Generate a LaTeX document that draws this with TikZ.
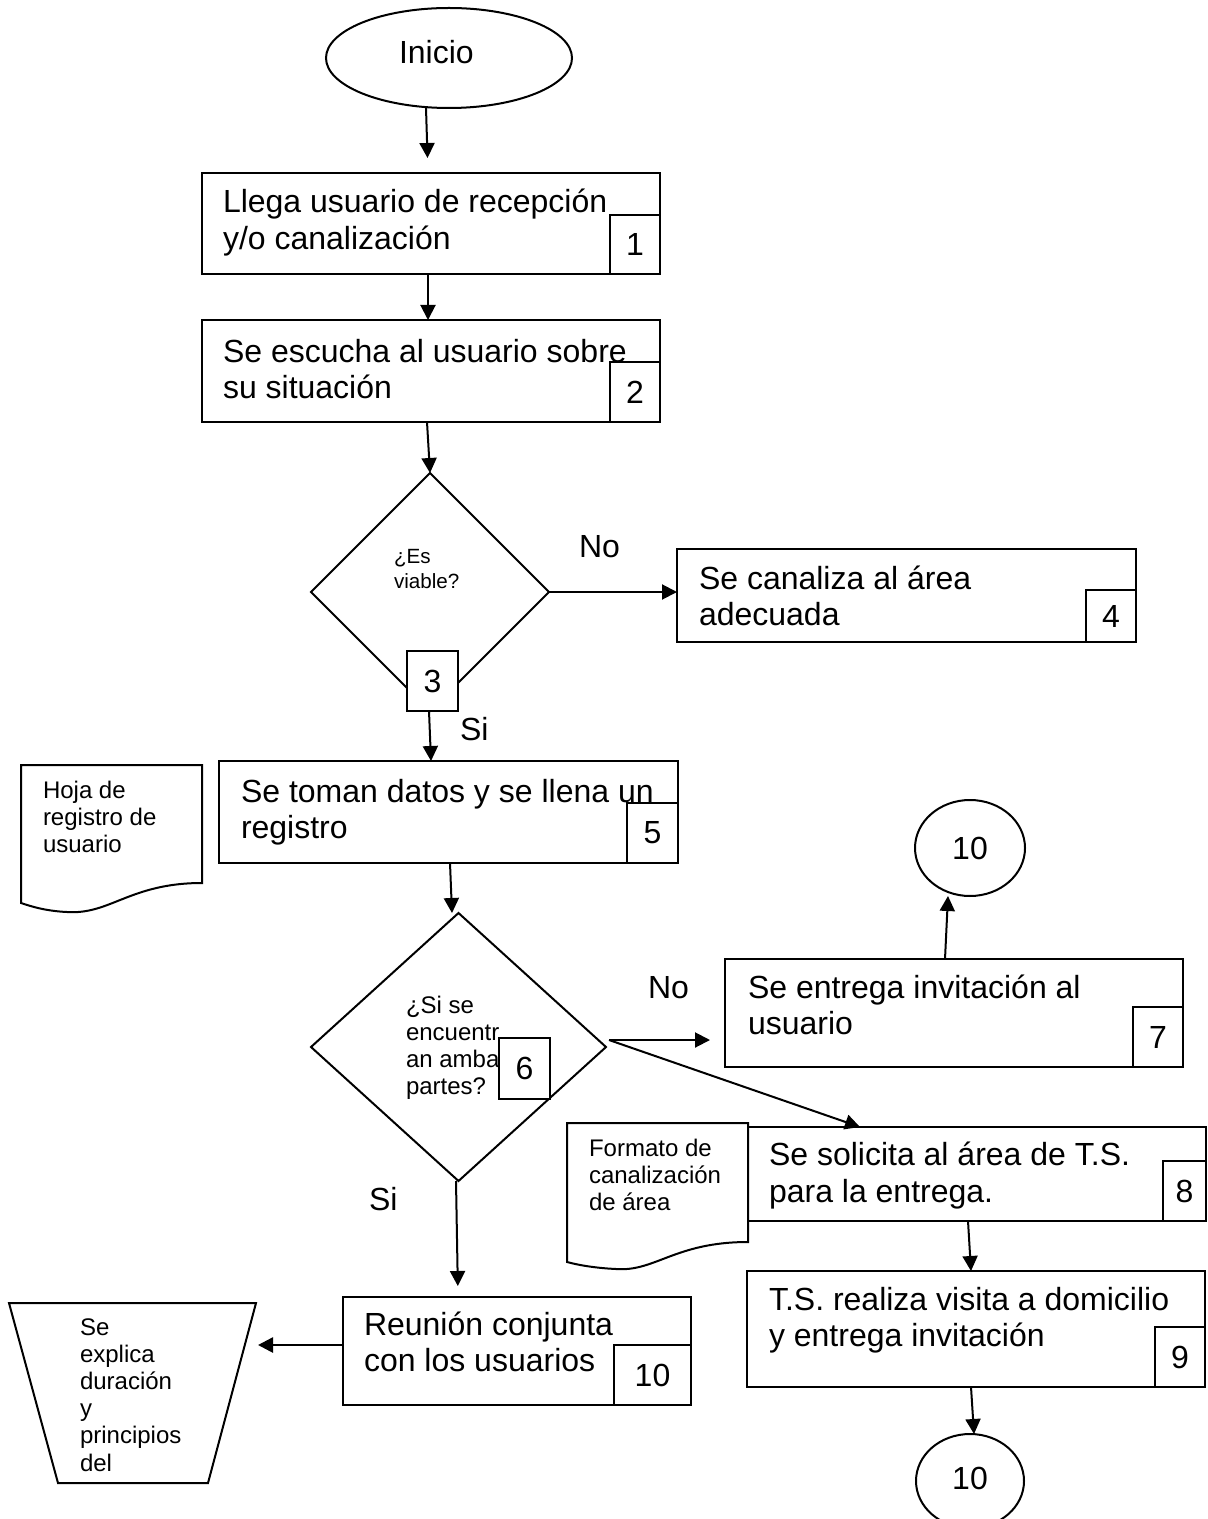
\documentclass[tikz,border=0pt]{standalone}
\usepackage{fontspec}
\setmainfont{Liberation Sans}
\usetikzlibrary{shapes.geometric,arrows.meta,fit,calc}
\newcommand{\bigf}{\fontsize{16pt}{18.4pt}\selectfont}
\newcommand{\smlf}{\fontsize{12pt}{13.6pt}\selectfont}
\newcommand{\tnyf}{\fontsize{10.3pt}{12.5pt}\selectfont}
\begin{document}
\begin{tikzpicture}[x=0.5pt,y=-0.5pt, line width=1pt,
  box/.style={draw, inner sep=0pt, outer sep=0pt},
  numb/.style={draw, inner sep=0pt, outer sep=0pt},
  numbw/.style={draw, fill=white, inner sep=0pt, outer sep=0pt},
  numt/.style={font=\bigf, inner sep=0pt},
  txt/.style={anchor=base west, inner sep=0pt, align=left, font=\bigf},
  stxt/.style={anchor=base west, inner sep=0pt, align=left, font=\smlf},
  ttxt/.style={anchor=base west, inner sep=0pt, align=left, font=\tnyf},
  arr/.style={-{Triangle[length=7.5pt,width=7.5pt]}},
  dec/.style={draw, diamond, inner sep=0pt, outer sep=0pt},
  term/.style={draw, ellipse, inner sep=0pt, outer sep=0pt}]
\useasboundingbox (0,0) rectangle (1207,1519);
\clip (0,0) rectangle (1207,1519);

% start
\node[term, minimum width=123pt, minimum height=50pt] (inicio) at (449,58) {};
\node[txt] (tinicio) at (398,64) {Inicio};

% box 1
\node[box, fit={(202,173) (660,274)}] (b1) {};
\node[numb, fit={(610,215) (660,274)}] (n1) {};
\node[numt] at (n1.center) {1};
\node[txt] at (222,249.8) {Llega usuario de recepción\\y/o canalización};

% box 2
\node[box, fit={(202,320) (660,422)}] (b2) {};
\node[numb, fit={(610,362) (660,422)}] (n2) {};
\node[numt] at (n2.center) {2};
\node[txt] at (222,398.8) {Se escucha al usuario sobre\\su situación};

% decision 1
\node[dec, minimum width=119pt, minimum height=119pt] (d1) at (430,592) {};
\node[numbw, fit={(407,651) (458,711)}] (n3) {};
\node[numt] at (n3.center) {3};
\node[ttxt] at (393,588) {¿Es\\viable?};
\node[txt] (no1) at (578,557) {No};
\node[txt] (si1) at (459,740) {Si};

% box 4
\node[box, fit={(677,549) (1136,642)}] (b4) {};
\node[numb, fit={(1086,590) (1136,642)}] (n4) {};
\node[numt] at (n4.center) {4};
\node[txt] at (698,625.8) {Se canaliza al área\\adecuada};

% box 5
\node[box, fit={(219,761) (678,863)}] (b5) {};
\node[numb, fit={(627,803) (678,863)}] (n5) {};
\node[numt] at (n5.center) {5};
\node[txt] at (240,838.8) {Se toman datos y se llena un\\registro};

% document 1
\draw (21,765) -- (202,765) -- (202,883)
  .. controls (130,883) and (110,915) .. (67,912)
  .. controls (45,911) and (30,906) .. (21,903) -- cycle;
\node[stxt] (doc1) at (42,852.4) {Hoja de\\registro de\\usuario};

% decision 2
\node[dec, minimum width=147.5pt, minimum height=134pt] (d2) at (458.5,1047) {};
\node[stxt] at (405,1094.6) {¿Si se\\encuentr\\an amba\\partes?};
\node[numbw, fit={(499,1038) (550,1099)}] (n6) {};
\node[numt] at (n6.center) {6};
\node[txt] (no2) at (647,998) {No};
\node[txt] (si2) at (368,1210) {Si};

% top connector circle
\node[term, minimum width=55pt, minimum height=48pt] (c1) at (970,848) {};
\node[numt] at (c1.center) {10};

% box 7
\node[box, fit={(725,959) (1183,1067)}] (b7) {};
\node[numb, fit={(1133,1007) (1183,1067)}] (n7) {};
\node[numt] at (n7.center) {7};
\node[txt] at (747,1034.8) {Se entrega invitación al\\usuario};

% document 2
\draw (567,1123) -- (748,1123) -- (748,1242)
  .. controls (675,1242) and (655,1272) .. (616,1269)
  .. controls (595,1268) and (578,1265) .. (567,1262) -- cycle;
\node[stxt] (doc2) at (588,1210.4) {Formato de\\canalización\\de área};

% box 8
\node[box, fit={(748,1127) (1206,1221)}] (b8) {};
\node[numb, fit={(1163,1161) (1206,1221)}] (n8) {};
\node[numt] at (n8.center) {8};
\node[txt] at (768,1202.5) {Se solicita al área de T.S.\\para la entrega.};

% box 9
\node[box, fit={(747,1271) (1205,1387)}] (b9) {};
\node[numb, fit={(1155,1327) (1205,1387)}] (n9) {};
\node[numt] at (n9.center) {9};
\node[txt] at (768,1346.8) {T.S. realiza visita a domicilio\\y entrega invitación};

% bottom connector circle
\node[term, minimum width=54pt, minimum height=47pt] (c2) at (970,1481) {};
\node[numt] at (970,1478) {10};

% box 10
\node[box, fit={(343,1297) (691,1405)}] (b10) {};
\node[numb, fit={(614,1345) (691,1405)}] (n10) {};
\node[numt] at (n10.center) {10};
\node[txt] at (363,1371.8) {Reunión conjunta\\con los usuarios};

% trapezoid
\draw (9,1303) -- (256,1303) -- (208,1483) -- (58,1483) -- cycle;
\coordinate (trapR) at (258,1345);
\node[stxt] (trapt) at (79,1471) {Se\\explica\\duración\\y\\principios\\del};

% connectors
\draw[arr, shorten >=7.5pt] (inicio.south -| 426,0) -- (b1.north -| 428,0);
\draw[arr] (b1.south -| 428,0) -- (b2.north -| 428,0);
\draw[arr] (b2.south -| 427,0) -- (d1.north);
\draw[arr] (d1.east) -- (d1.east -| b4.west);
\draw[arr] (n3.south -| 429,0) -- (b5.north -| 431,0);
\draw[arr] (b5.south -| 450,0) -- (d2.north -| 452,0);
\coordinate (d2o) at ($(d2.east)+(3,-7)$);
\draw[arr, shorten >=7.5pt] (d2o) -- (d2o -| b7.west);
\draw[arr] (d2o) -- (b8.north -| 860,0);
\draw[arr] (b7.north -| 945,0) -- (c1.south -| 948,0);
\draw[arr] (b8.south -| 968,0) -- (b9.north -| 971,0);
\draw[arr] (b9.south -| 971,0) -- (c2.north -| 974,0);
\draw[arr, shorten >=5.5pt] (d2.south -| 456,0) -- (b10.north -| 458,0);
\draw[arr, line width=1.3pt] (trapR -| b10.west) -- (trapR);
\end{tikzpicture}
\end{document}
